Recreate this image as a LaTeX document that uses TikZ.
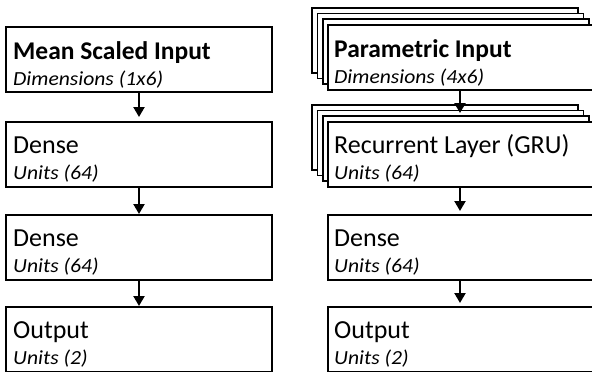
\documentclass[tikz,border=0pt]{standalone}
\usepackage{fontspec}
\setmainfont{Carlito}
\newfontfamily\subfont[FakeStretch=1.08]{Carlito}
\usetikzlibrary{arrows.meta}
\tikzset{
  layerbox/.style={draw=black, line width=1.2pt, fill=white, minimum width=266pt, minimum height=65pt, anchor=north west, inner sep=0pt, outer sep=0pt},
  titletxt/.style={anchor=base west, inner sep=0pt, font=\fontsize{26}{30}\selectfont},
  boldtxt/.style={anchor=base west, inner sep=0pt, font=\fontsize{25.5}{30}\selectfont\bfseries},
  subtxt/.style={anchor=base west, inner sep=0pt, font=\subfont\fontsize{20}{24}\selectfont\itshape},
  flow/.style={line width=2.2pt, -{Triangle[width=11pt,length=10pt]}}
}
\begin{document}
\begin{tikzpicture}[x=1pt,y=-1pt]
\useasboundingbox (0,0) rectangle (592,372);
\clip (0,0) rectangle (592,372);
% left column
\node[layerbox] (l1) at (6,27) {};
\node[layerbox] (l2) at (6,122) {};
\node[layerbox] (l3) at (6,215) {};
\node[layerbox] (l4) at (6,307) {};
\node[boldtxt] (t1) at ([xshift=7pt,yshift=-32pt]l1.north west) {Mean Scaled Input};
\node[subtxt] (s1) at ([xshift=7pt,yshift=-58.5pt]l1.north west) {Dimensions (1x6)};
\node[titletxt] (t2) at ([xshift=7pt,yshift=-31.5pt]l2.north west) {Dense};
\node[subtxt] (s2) at ([xshift=7pt,yshift=-57pt]l2.north west) {Units (64)};
\node[titletxt] (t3) at ([xshift=7pt,yshift=-31.5pt]l3.north west) {Dense};
\node[subtxt] (s3) at ([xshift=7pt,yshift=-57pt]l3.north west) {Units (64)};
\node[titletxt] (t4) at ([xshift=7pt,yshift=-31.5pt]l4.north west) {Output};
\node[subtxt] (s4) at ([xshift=7pt,yshift=-57pt]l4.north west) {Units (2)};
\draw[flow, shorten >=5pt] (l1.south) -- (l2.north);
\draw[flow, shorten >=1pt] (l2.south) -- (l3.north);
\draw[flow, shorten >=1pt] (l3.south) -- (l4.north);
% right column: stack 1
\node[layerbox] (ra3) at (312,8) {};
\node[layerbox] (ra2) at (317.5,13.5) {};
\node[layerbox] (ra1) at (323,19) {};
\node[layerbox] (r1) at (328,25) {};
\node[boldtxt] (rt1) at ([xshift=6pt,yshift=-32pt]r1.north west) {Parametric Input};
\node[subtxt] (rs1) at ([xshift=6pt,yshift=-58.5pt]r1.north west) {Dimensions (4x6)};
% stack 2
\node[layerbox] (rb3) at (312,105) {};
\node[layerbox] (rb2) at (317.5,110.5) {};
\node[layerbox] (rb1) at (323,116) {};
\node[layerbox] (r2) at (328,122) {};
\node[titletxt] (rt2) at ([xshift=6pt,yshift=-31.5pt]r2.north west) {Recurrent Layer (GRU)};
\node[subtxt] (rs2) at ([xshift=6pt,yshift=-57pt]r2.north west) {Units (64)};
\node[layerbox] (r3) at (328,215) {};
\node[titletxt] (rt3) at ([xshift=6pt,yshift=-31.5pt]r3.north west) {Dense};
\node[subtxt] (rs3) at ([xshift=6pt,yshift=-57pt]r3.north west) {Units (64)};
\node[layerbox] (r4) at (328,307) {};
\node[titletxt] (rt4) at ([xshift=6pt,yshift=-31.5pt]r4.north west) {Output};
\node[subtxt] (rs4) at ([xshift=6pt,yshift=-57pt]r4.north west) {Units (2)};
\draw[flow, shorten >=9pt] ([xshift=-1pt]r1.south) -- ([xshift=-1pt]r2.north);
\draw[flow, shorten >=4pt] ([xshift=-1pt]r2.south) -- ([xshift=-1pt]r3.north);
\draw[flow, shorten >=4pt] ([xshift=-1pt]r3.south) -- ([xshift=-1pt]r4.north);
\end{tikzpicture}
\end{document}
